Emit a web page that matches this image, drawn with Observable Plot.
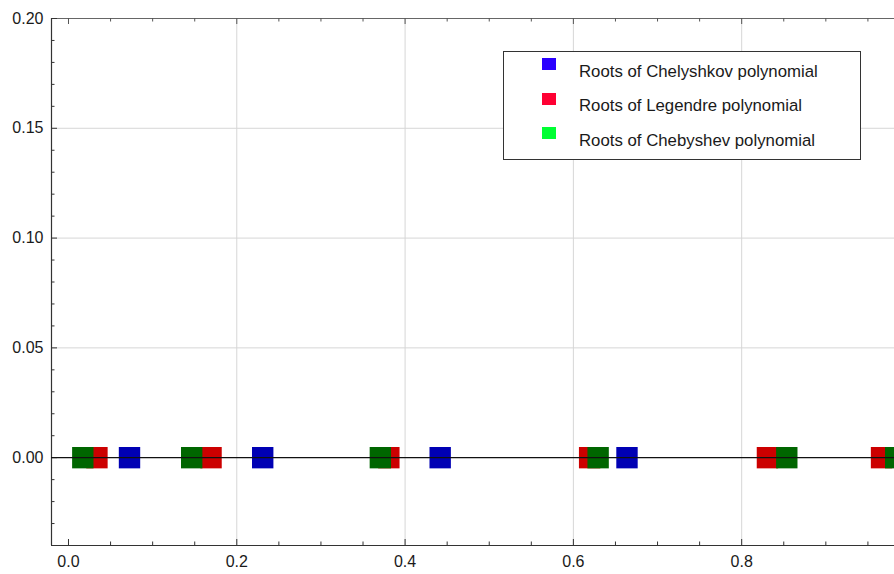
<!DOCTYPE html>
<html><head><meta charset="utf-8">
<script src="https://cdn.jsdelivr.net/npm/d3@7"></script>
<script src="https://cdn.jsdelivr.net/npm/@observablehq/plot@0.6"></script>
<style>
body{margin:0;background:#fff;}
#wrap{position:relative;width:894px;height:574px;font-family:"Liberation Sans",Arial,sans-serif;}
#legend{position:absolute;left:503px;top:51px;width:356px;height:107px;border:1px solid #333;background:#fff;}
.sw{position:absolute;left:38px;width:14px;height:12px;}
.lt{position:absolute;left:75px;font-size:16.8px;line-height:20px;color:#1a1a1a;white-space:nowrap;}
</style></head>
<body>
<div id="wrap"></div>
<script>
// Data
const chelyshkovRoots = [0.0725, 0.2308, 0.4417, 0.6637];
const legendreRoots   = [0.0338, 0.1694, 0.3807, 0.6193, 0.8306, 0.9662];
const chebyshevRoots  = [0.0170, 0.1464, 0.3706, 0.6294, 0.8536, 0.9830];
const seriesNames = ["Roots of Chelyshkov polynomial", "Roots of Legendre polynomial", "Roots of Chebyshev polynomial"];
const markColors   = ["#0000b4", "#cc0000", "#006600"];
const legendColors = ["#2a00ff", "#ff0033", "#00ff33"];

const xMajorTicks = [0, 0.2, 0.4, 0.6, 0.8];
const xMinorTicks = [0.05, 0.1, 0.15, 0.25, 0.3, 0.35, 0.45, 0.5, 0.55, 0.65, 0.7, 0.75, 0.85, 0.9, 0.95];
const yMajorTicks = [0, 0.05, 0.10, 0.15, 0.20];
const yMinorTicks = [-0.03, -0.02, -0.01, 0.01, 0.02, 0.03, 0.04, 0.06, 0.07, 0.08, 0.09, 0.11, 0.12, 0.13, 0.14, 0.16, 0.17, 0.18, 0.19];
const xDomain = [-0.0202, 0.9816];
const yDomain = [-0.04, 0.20];

const W = 894, H = 574, mL = 51, mR = 0, mT = 18, mB = 29;
const rootSets = [chelyshkovRoots, legendreRoots, chebyshevRoots];
const points = rootSets.flatMap((arr, i) => arr.map(v => ({x: v, y: 0, s: seriesNames[i]})));

const xMin = xDomain[0], yMin = yDomain[0], yMax = yDomain[1];
// data units per pixel (for inward frame ticks)
const yu = (yMax - yMin) / (H - mT - mB);
const xu = (xDomain[1] - xDomain[0]) / (W - mL - mR);

const chart = Plot.plot({
  width: W, height: H,
  marginLeft: mL, marginRight: mR, marginTop: mT, marginBottom: mB,
  style: {fontFamily: "'Liberation Sans', Arial, sans-serif", fontSize: "16px", color: "#1a1a1a", background: "#fff"},
  x: {domain: xDomain, label: null},
  y: {domain: yDomain, label: null},
  color: {domain: seriesNames, range: markColors},
  marks: [
    Plot.gridX(xMajorTicks.filter(d => d > 0), {stroke: "#d6d6d6", strokeOpacity: 1, strokeWidth: 1}),
    Plot.gridY(yMajorTicks.filter(d => d > 0 && d < yMax), {stroke: "#d6d6d6", strokeOpacity: 1, strokeWidth: 1}),
    Plot.axisX(xMajorTicks, {tickSize: 0, tickPadding: 10, tickFormat: d3.format(".1f"), fill: "#1a1a1a", label: null}),
    Plot.axisY(yMajorTicks, {tickSize: 0, tickPadding: 8, tickFormat: d3.format(".2f"), fill: "#1a1a1a", label: null}),
    // frame
    Plot.ruleX([xMin], {stroke: "#333", strokeWidth: 1.2}),
    Plot.ruleY([yMin], {stroke: "#333", strokeWidth: 1.2}),
    Plot.ruleY([yMax], {stroke: "#666", strokeWidth: 1.2}),
    // inward ticks bottom
    Plot.ruleX(xMajorTicks, {x: d => d, y1: yMin, y2: yMin + 6 * yu, stroke: "#333"}),
    Plot.ruleX(xMinorTicks, {x: d => d, y1: yMin, y2: yMin + 3.5 * yu, stroke: "#333"}),
    // inward ticks top
    Plot.ruleX(xMajorTicks, {x: d => d, y1: yMax, y2: yMax - 6 * yu, stroke: "#555"}),
    Plot.ruleX(xMinorTicks, {x: d => d, y1: yMax, y2: yMax - 3.5 * yu, stroke: "#555"}),
    // inward ticks left
    Plot.ruleY(yMajorTicks, {y: d => d, x1: xMin, x2: xMin + 6 * xu, stroke: "#333"}),
    Plot.ruleY(yMinorTicks, {y: d => d, x1: xMin, x2: xMin + 3.5 * xu, stroke: "#333"}),
    // roots
    Plot.dot(points, {x: "x", y: "y", fill: "s", symbol: "square", r: 12.07, stroke: "none"}),
    // zero line
    Plot.ruleY([0], {stroke: "#111", strokeWidth: 1.3})
  ]
});

const wrap = document.getElementById("wrap");
wrap.appendChild(chart);

const legend = document.createElement("div");
legend.id = "legend";
const swTops = [6.3, 41.3, 75.3];
const txtTops = [9.6, 44.1, 78.6];
seriesNames.forEach((name, i) => {
  const sw = document.createElement("div");
  sw.className = "sw";
  sw.style.top = swTops[i] + "px";
  sw.style.background = legendColors[i];
  legend.appendChild(sw);
  const t = document.createElement("div");
  t.className = "lt";
  t.style.top = txtTops[i] + "px";
  t.textContent = name;
  legend.appendChild(t);
});
wrap.appendChild(legend);
</script>
</body></html>
